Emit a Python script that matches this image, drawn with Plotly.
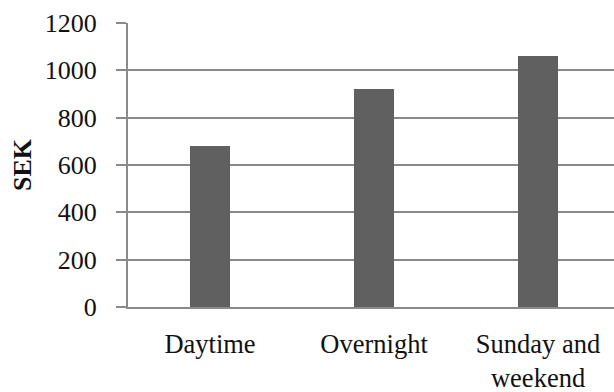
import plotly.graph_objects as go

# Average price per call-out period
categories = ["Daytime", "Overnight", "Sunday and<br>weekend"]
values = [680, 920, 1060]
y_ticks = [0, 200, 400, 600, 800, 1000, 1200]

bar_color = "#606060"
line_color = "#8a8a8a"
font_family = "Liberation Serif, Times New Roman, serif"

fig = go.Figure(
    go.Bar(
        x=categories,
        y=values,
        width=0.248,
        marker=dict(color=bar_color, line=dict(width=0)),
    )
)

fig.update_layout(
    width=614,
    height=392,
    margin=dict(l=128, r=0, t=23, b=85),
    paper_bgcolor="white",
    plot_bgcolor="white",
    showlegend=False,
    bargap=0,
    font=dict(family=font_family, size=26, color="#111111"),
)

fig.update_xaxes(
    type="category",
    range=[-0.5, 2.463],
    showgrid=False,
    showline=True,
    linecolor=line_color,
    linewidth=2,
    ticks="",
    ticklabelstandoff=12,
    tickfont=dict(family=font_family, size=26.5),
)

fig.update_yaxes(
    range=[0, 1200],
    tickvals=y_ticks,
    showgrid=True,
    gridcolor=line_color,
    gridwidth=1.5,
    zeroline=False,
    showline=True,
    linecolor=line_color,
    linewidth=2,
    ticks="outside",
    ticklen=10,
    tickwidth=2,
    tickcolor=line_color,
    ticklabelstandoff=14,
    tickfont=dict(family=font_family, size=26),
    title=dict(
        text="<b>SEK</b>",
        font=dict(family=font_family, size=26),
        standoff=6,
    ),
)

fig.write_html("out.html")
